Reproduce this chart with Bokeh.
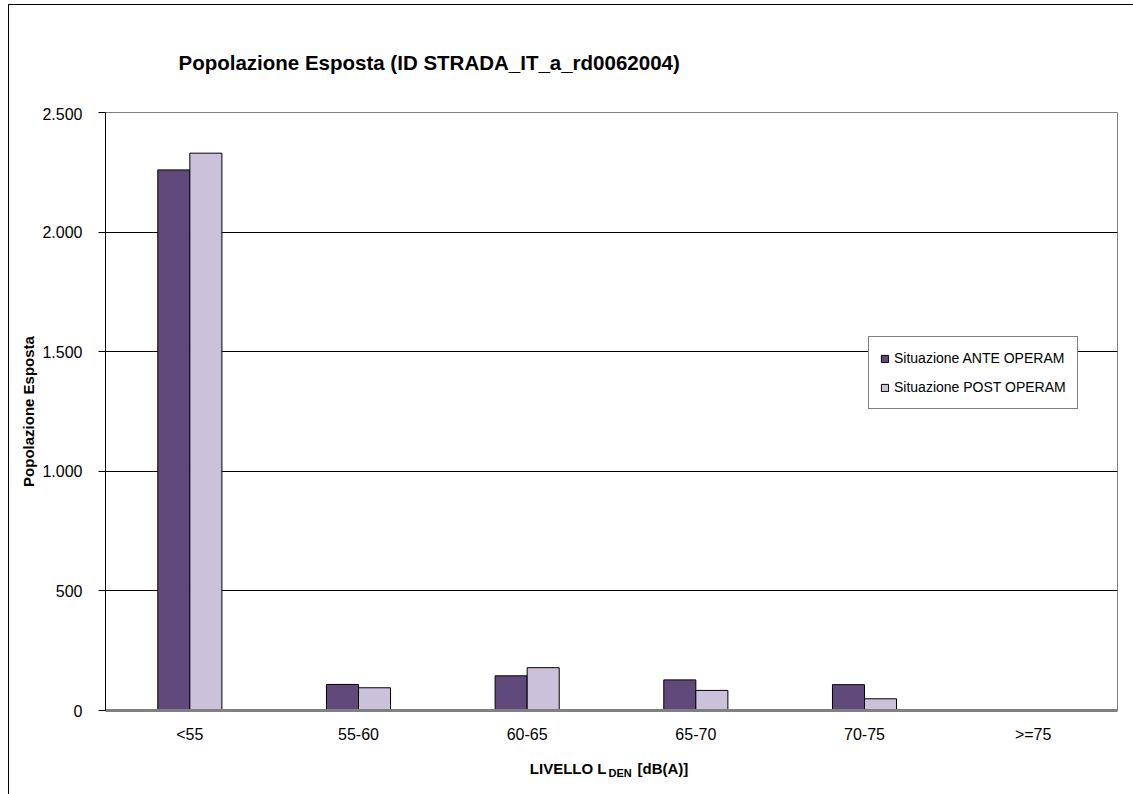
from bokeh.plotting import figure
from bokeh.layouts import column
from bokeh.models import (FactorRange, Range1d, CustomJSTickFormatter,
                          Legend, LegendItem)
from bokeh.transform import dodge
from bokeh.core.properties import value
from bokeh.embed import file_html
from bokeh.resources import INLINE

categories = ["<55", "55-60", "60-65", "65-70", "70-75", ">=75"]
ante_operam = [2260, 109, 145, 128, 108, 0]
post_operam = [2330, 95, 179, 84, 49, 0]
y_ticks = [0, 500, 1000, 1500, 2000, 2500]
series_names = ["Situazione ANTE OPERAM", "Situazione POST OPERAM"]
title_text = "Popolazione Esposta (ID STRADA_IT_a_rd0062004)"
xlabel_parts = ["LIVELLO L", "DEN", "[dB(A)]"]

FONT = "Liberation Sans"
W = 1124
BL, BR = 96, 16   # frame borders (left, right)


def blank(height):
    # strip whose data x equals canvas pixel x (frames are aligned in the column)
    f = figure(width=W, height=height, x_range=Range1d(BL, W - BR),
               y_range=Range1d(0, height), output_backend="svg",
               toolbar_location=None, x_axis_type=None, y_axis_type=None,
               min_border=0, min_border_left=BL, min_border_right=BR)
    f.outline_line_color = None
    f.xgrid.grid_line_color = None
    f.ygrid.grid_line_color = None
    return f


# title strip
top = blank(102)
top.text(x=[169], y=[45], text=[title_text], text_font=value(FONT),
         text_font_size="20.5px", text_font_style="bold",
         text_baseline="alphabetic", text_color="#000000")

# main chart
p = figure(width=W, height=643, x_range=FactorRange(*categories),
           y_range=Range1d(0, 2500), output_backend="svg", toolbar_location=None,
           min_border_left=BL, min_border_right=BR, min_border_top=5,
           min_border_bottom=40)

src = dict(cat=categories, ante=ante_operam, post=post_operam)
r1 = p.vbar(x=dodge("cat", -0.095, range=p.x_range), top="ante", width=0.19,
            source=src, fill_color="#604A7B", line_color="#000000", line_width=1)
r2 = p.vbar(x=dodge("cat", 0.095, range=p.x_range), top="post", width=0.19,
            source=src, fill_color="#CCC1DA", line_color="#000000", line_width=1)

p.outline_line_color = "#808080"
p.outline_line_width = 1
p.xgrid.grid_line_color = None
p.ygrid.grid_line_color = "#000000"
p.ygrid.grid_line_width = 1
p.yaxis.ticker = y_ticks
p.yaxis.formatter = CustomJSTickFormatter(
    code="return String(tick).replace(/\\B(?=(\\d{3})+(?!\\d))/g, '.');")
p.yaxis.axis_line_color = "#000000"
p.yaxis.major_tick_line_color = "#000000"
p.yaxis.major_tick_in = 0
p.yaxis.major_tick_out = 7
p.yaxis.minor_tick_line_color = None
p.yaxis.major_label_text_font = FONT
p.yaxis.major_label_text_font_size = "16px"
p.yaxis.major_label_text_color = "#000000"
p.yaxis.major_label_standoff = 16
p.yaxis.axis_label = "Popolazione Esposta"
p.yaxis.axis_label_text_font = FONT
p.yaxis.axis_label_text_font_size = "15px"
p.yaxis.axis_label_text_font_style = "bold"
p.yaxis.axis_label_text_color = "#000000"
p.yaxis.axis_label_standoff = 2

p.xaxis.axis_line_color = "#808080"
p.xaxis.axis_line_width = 3
p.xaxis.major_tick_line_color = None
p.xaxis.minor_tick_line_color = None
p.xaxis.major_label_text_font = FONT
p.xaxis.major_label_text_font_size = "16px"
p.xaxis.major_label_text_color = "#000000"
p.xaxis.major_label_standoff = 9

legend = Legend(items=[LegendItem(label=series_names[0], renderers=[r1]),
                       LegendItem(label=series_names[1], renderers=[r2])],
                location=(763, 301))
legend.label_text_font = FONT
legend.label_text_font_size = "14px"
legend.label_text_color = "#000000"
legend.glyph_width = 9
legend.glyph_height = 9
legend.label_height = 20
legend.spacing = 9
legend.padding = 11
legend.margin = 0
legend.border_line_color = "#000000"
legend.border_line_width = 1
legend.background_fill_alpha = 1
p.add_layout(legend)

# x-axis title strip with subscript
bottom = blank(44)
bottom.text(x=[597], y=[26], text=[xlabel_parts[0]], text_font=value(FONT),
            text_font_size="15px", text_font_style="bold", text_align="right",
            text_baseline="alphabetic", text_color="#000000")
bottom.text(x=[599], y=[22], text=[xlabel_parts[1]], text_font=value(FONT),
            text_font_size="11px", text_font_style="bold", text_align="left",
            text_baseline="alphabetic", text_color="#000000")
bottom.text(x=[628], y=[26], text=[xlabel_parts[2]], text_font=value(FONT),
            text_font_size="15px", text_font_style="bold", text_align="left",
            text_baseline="alphabetic", text_color="#000000")

layout = column(top, p, bottom, spacing=0)
layout.styles = {"margin-left": "8px", "margin-top": "4px",
                 "border-left": "1px solid #000", "border-top": "1px solid #000"}

open("out.html", "w").write(file_html(layout, INLINE))
